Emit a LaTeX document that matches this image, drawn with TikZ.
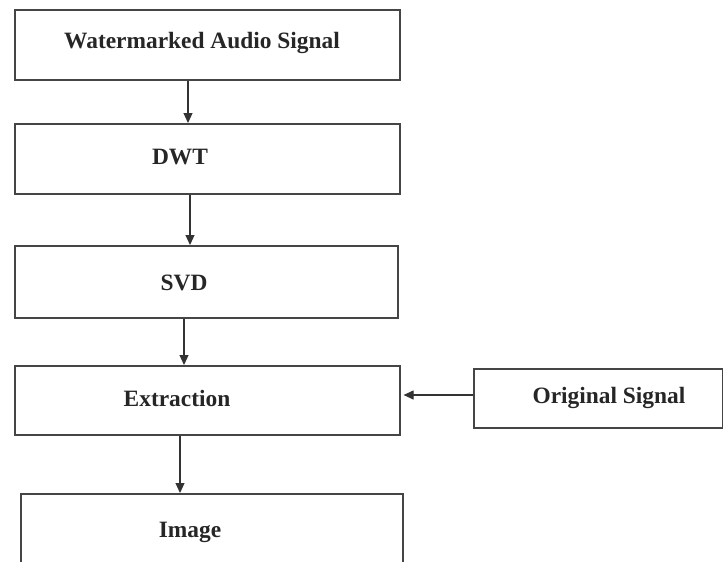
\documentclass[tikz,border=0pt]{standalone}
\usepackage{fontspec}
\setmainfont{Liberation Serif}
\usetikzlibrary{arrows.meta}
\definecolor{edge}{HTML}{454545}
\begin{document}
\begin{tikzpicture}[x=1pt,y=-1pt,
  box/.style={draw=edge,line width=1.6pt,fill=white},
  lbl/.style={font=\bfseries\fontsize{23.4}{26}\selectfont,text=black!85,inner sep=0pt},
  conn/.style={draw=black!80,line width=1.1pt,-{Triangle[length=10pt,width=9pt]}}]
\useasboundingbox (0,0) rectangle (723,562);
\clip (0,0) rectangle (723,562);
\fill[white] (0,0) rectangle (723,562);
% boxes
\node[box,minimum width=385pt,minimum height=70pt,anchor=north west] (b1) at (14,9) {};
\node[box,minimum width=385pt,minimum height=70pt,anchor=north west] (b2) at (14,123) {};
\node[box,minimum width=383pt,minimum height=72pt,anchor=north west] (b3) at (14,245) {};
\node[box,minimum width=385pt,minimum height=69pt,anchor=north west] (b4) at (14,365) {};
\node[box,minimum width=382pt,minimum height=80pt,anchor=north west] (b5) at (20,493) {};
\node[box,minimum width=249pt,minimum height=59pt,anchor=north west] (b6) at (473,368) {};
% labels
\node[lbl] (t1) at (202,43) {Watermarked Audio Signal};
\node[lbl] (t2) at (180,157) {DWT};
\node[lbl] (t3) at (184,283) {SVD};
\node[lbl] (t4) at (177,398) {Extraction};
\node[lbl] (t5) at (190,532) {Image};
\node[lbl] (t6) at (609,398) {Original Signal};
% connectors
\draw[conn] (b1.south -| 188,0) -- (b2.north -| 188,0);
\draw[conn] (b2.south -| 190,0) -- (b3.north -| 190,0);
\draw[conn] (b3.south -| 184,0) -- (b4.north -| 184,0);
\draw[conn] (b4.south -| 180,0) -- (b5.north -| 180,0);
\draw[conn] (b6.west |- 0,395) -- ([xshift=3pt]b4.east |- 0,395);
\end{tikzpicture}
\end{document}
